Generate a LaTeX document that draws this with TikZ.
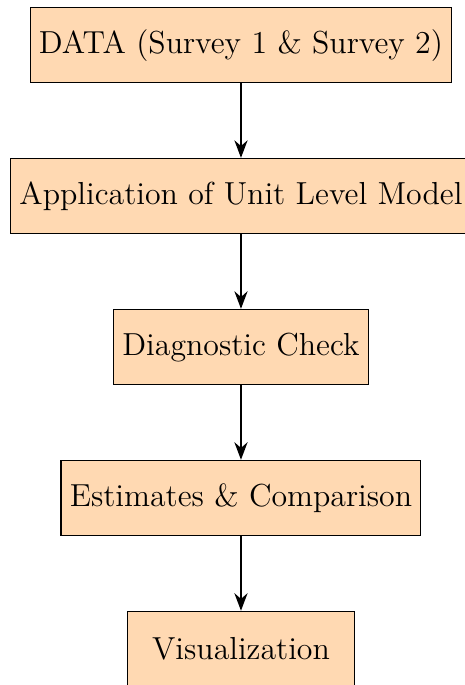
\documentclass[tikz,border=0pt]{standalone}
\usepackage{xcolor}
\usepackage{tikz}
\usetikzlibrary{positioning, arrows.meta}
\tikzset{>=Stealth}

\begin{document}
\begin{tikzpicture}[node distance=0.985cm, font=\large,
  stage/.style={draw=black, fill=orange!30, minimum width=3cm, minimum height=1cm}]

 \useasboundingbox (-90.8pt,2.6pt) rectangle (84.4pt,-255.5pt);

   \node[stage, anchor=north] (data) at (0,0) {DATA (Survey 1 \& Survey 2)};
   \node[stage, below=of data] (model) {Application of Unit Level Model};
   \node[stage, below=of model] (check) {Diagnostic Check};
   \node[stage, below=of check] (estimates) {Estimates \& Comparison};
   \node[stage, below=of estimates] (visual) {Visualization};

   \draw[->, thick] (data) -- (model);
   \draw[->, thick] (model) -- (check);
   \draw[->, thick] (check) -- (estimates);
   \draw[->, thick] (estimates) -- (visual);

\end{tikzpicture}
\end{document}
